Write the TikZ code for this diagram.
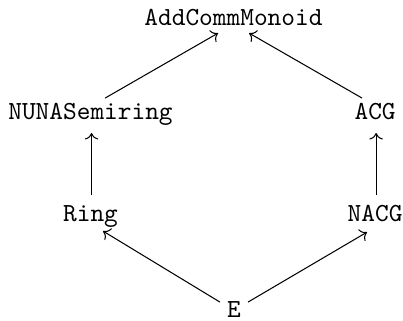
\documentclass[tikz,border=0pt]{standalone}
\usetikzlibrary{arrows.meta}
\begin{document}
\begin{tikzpicture}[x=1pt,y=1pt,
  obj/.style={font=\ttfamily, anchor=base, inner sep=0.3333em},
  arr/.style={-{To}, line width=0.4pt}]
\useasboundingbox (0,0) rectangle (154.5,122.7);
\node[obj] (acm) at (89.5,113.1) {AddCommMonoid};
\node[obj] (nuna) at (34.7,76.7) {NUNASemiring};
\node[obj] (acg) at (143.8,76.7) {ACG};
\node[obj] (ring) at (34.7,37.8) {Ring};
\node[obj] (nacg) at (143.8,37.8) {NACG};
\node[obj] (e) at (89.7,0.8) {E};
\draw[arr] ([shift={(-5.4,6.1)}]e.base) -- ([shift={(4.8,-3.7)}]ring.base);
\draw[arr] ([shift={(5.4,6.1)}]e.base) -- ([shift={(-3.1,-4.1)}]nacg.base);
\draw[arr] ([shift={(0.4,10.1)}]ring.base) -- ([shift={(0.4,-5.0)}]nuna.base);
\draw[arr] ([shift={(0.4,10.1)}]nacg.base) -- ([shift={(0.4,-5.0)}]acg.base);
\draw[arr] ([shift={(5.6,8.4)}]nuna.base) -- ([shift={(-5.9,-3.1)}]acm.base);
\draw[arr] ([shift={(-5.0,8.4)}]acg.base) -- ([shift={(6.0,-3.1)}]acm.base);
\end{tikzpicture}
\end{document}
